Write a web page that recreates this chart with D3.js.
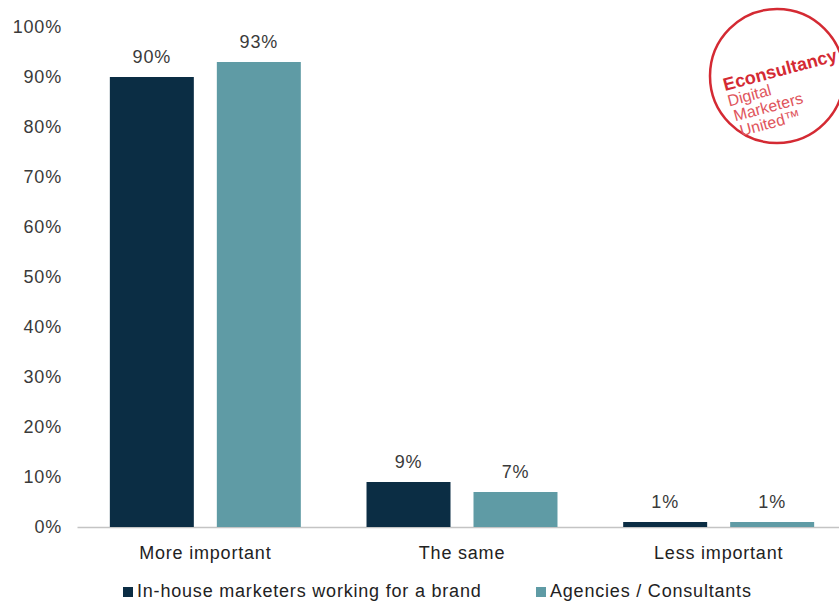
<!DOCTYPE html>
<html>
<head>
<meta charset="utf-8">
<script src="https://cdn.jsdelivr.net/npm/d3@7"></script>
<style>
  html, body { margin: 0; padding: 0; background: #fff; }
  svg { display: block; font-family: "Liberation Sans", Arial, sans-serif; }
</style>
</head>
<body>
<svg id="chart" width="839" height="603"></svg>
<script>
// Share of respondents, by answer and by respondent type
const categories = ["More important", "The same", "Less important"];
const seriesNames = ["In-house marketers working for a brand", "Agencies / Consultants"];
const inHouse = [90, 9, 1];
const agencies = [93, 7, 1];
const yTicks = [0, 10, 20, 30, 40, 50, 60, 70, 80, 90, 100];
const colors = ["#0b2d44", "#5f9ba5"];

const FONT = "'Liberation Sans', Arial, sans-serif";
const FS = 18;
const LS = 0.8;

const svg = d3.select("#chart");
const seriesValues = [inHouse, agencies];

const x = d3.scaleBand().domain(categories).range([77, 847]).paddingInner(0).paddingOuter(0);
const xSub = d3.scaleBand().domain(seriesNames).range([0, x.bandwidth()]).paddingInner(0.215).paddingOuter(0.307);
const y = d3.scaleLinear().domain([0, 100]).range([527, 27]);

// y axis labels (no axis line)
const yAxis = d3.axisLeft(y).tickValues(yTicks).tickFormat(d => d + "%").tickSize(0).tickPadding(0);
const yg = svg.append("g").attr("transform", "translate(62,0)").call(yAxis);
yg.select(".domain").remove();
yg.selectAll("text").attr("font-size", FS).attr("fill", "#3a3a3a")
  .attr("letter-spacing", LS).attr("font-family", FONT);

// baseline and category labels
const xAxis = d3.axisBottom(x).tickSize(0).tickPadding(19);
const xg = svg.append("g").attr("transform", `translate(0,${y(0)})`).call(xAxis);
xg.select(".domain").attr("stroke", "#c4c4c4").attr("stroke-width", 1.5);
xg.selectAll("text").attr("font-size", FS).attr("fill", "#222")
  .attr("letter-spacing", LS).attr("font-family", FONT);

// bars and value labels
const groups = svg.append("g").selectAll("g")
  .data(categories)
  .join("g")
  .attr("transform", d => `translate(${x(d)},0)`);

const rowsFor = (c, i) => seriesNames.map((s, j) => ({ s, j, v: seriesValues[j][i] }));

groups.selectAll("rect")
  .data(rowsFor)
  .join("rect")
  .attr("x", d => xSub(d.s))
  .attr("width", xSub.bandwidth())
  .attr("y", d => y(d.v))
  .attr("height", d => y(0) - y(d.v))
  .attr("fill", d => colors[d.j]);

groups.selectAll("text.val")
  .data(rowsFor)
  .join("text")
  .attr("class", "val")
  .attr("x", d => xSub(d.s) + xSub.bandwidth() / 2)
  .attr("y", d => y(d.v) - 14)
  .attr("text-anchor", "middle")
  .attr("font-size", FS)
  .attr("letter-spacing", LS)
  .attr("fill", "#3a3a3a")
  .text(d => d.v + "%");

// legend
const legendItems = [
  { name: seriesNames[0], color: colors[0], x: 123 },
  { name: seriesNames[1], color: colors[1], x: 536 }
];
const lg = svg.append("g").selectAll("g").data(legendItems).join("g")
  .attr("transform", d => `translate(${d.x},597)`);
lg.append("rect").attr("x", 0).attr("y", -10).attr("width", 10).attr("height", 10).attr("fill", d => d.color);
lg.append("text").attr("x", 14).attr("y", 0).attr("font-size", FS).attr("letter-spacing", LS)
  .attr("fill", "#222").text(d => d.name);

// badge in the top-right corner
const badge = svg.append("g").attr("transform", "translate(777,76)");
badge.append("circle").attr("r", 67).attr("fill", "none").attr("stroke", "#d42a33").attr("stroke-width", 2.5);
const bt = badge.append("g").attr("transform", "rotate(-15)");
bt.append("text").attr("x", -54).attr("y", 1).attr("font-size", 18).attr("font-weight", "bold")
  .attr("fill", "#d42a33").text("Econsultancy");
[["Digital", 16], ["Marketers", 32], ["United\u2122", 48]].forEach(([t, dy], i) => {
  bt.append("text").attr("x", -54 + i * 2).attr("y", 1 + dy).attr("font-size", 16)
    .attr("fill", "#e0555c").attr("font-weight", 300).text(t);
});
</script>
</body>
</html>
